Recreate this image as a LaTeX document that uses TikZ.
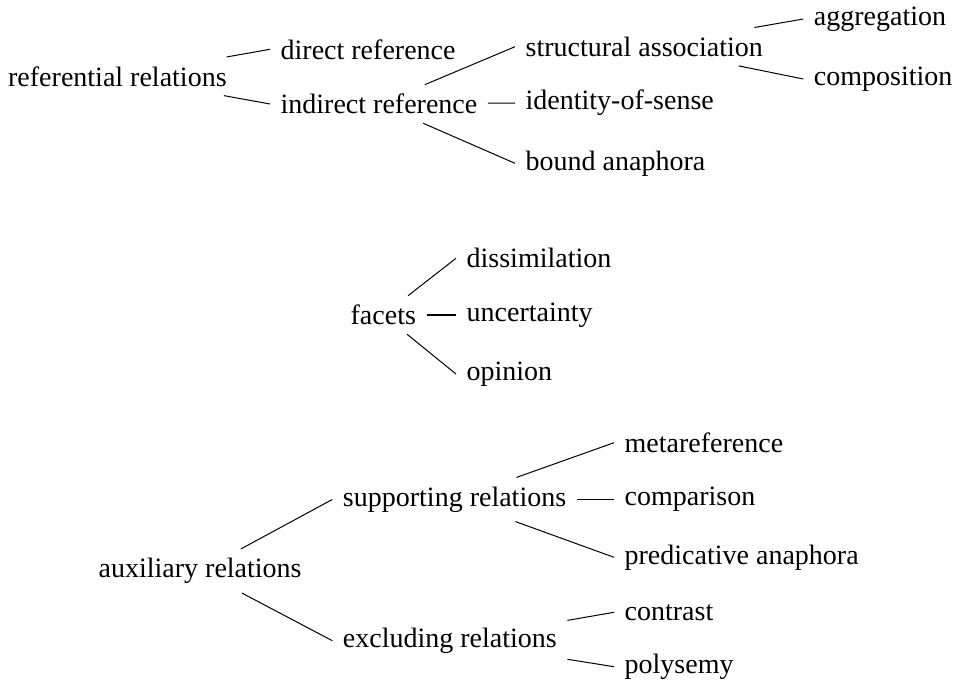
\documentclass[tikz,border=0pt]{standalone}
\usepackage{fontspec}
\setmainfont{Liberation Serif}
\usepackage{tikz}
\tikzset{
  termnd/.style={anchor=west, inner xsep=8pt, inner ysep=7pt, outer sep=0pt,
    font=\fontsize{21}{25}\selectfont},
  branchln/.style={line width=0.75pt, black},
}

\begin{document}
\begin{tikzpicture}[x=0.75pt, y=-0.75pt]
    \useasboundingbox (0,0) rectangle (954,681);
    % referential relations
    \node[termnd] (refrel) at (-2.5,76.3) {referential relations};
    \node[termnd] (dirref) at (270,49.3) {direct reference};
    \node[termnd] (indref) at (270,104) {indirect reference};
    \node[termnd] (strass) at (515,46.7) {structural association};
    \node[termnd] (idsense) at (515,103) {identity-of-sense};
    \node[termnd] (boundana) at (515,163.3) {bound anaphora};
    \node[termnd] (aggr) at (803.3,19) {aggregation};
    \node[termnd] (compo) at (803.3,79) {composition};
    \draw[branchln] (refrel) -- (dirref.west);
    \draw[branchln] (refrel) -- (indref.west);
    \draw[branchln] (indref) -- (strass.west);
    \draw[branchln] (indref) -- (idsense.west);
    \draw[branchln] (indref) -- (boundana.west);
    \draw[branchln] (strass) -- (aggr.west);
    \draw[branchln] (strass) -- (compo.west);
    % facets
    \node[termnd] (facets) at (340,315) {facets};
    \node[termnd] (dissim) at (456,258.3) {dissimilation};
    \node[termnd] (uncert) at (456,315) {uncertainty};
    \node[termnd] (opinion) at (456,374) {opinion};
    \draw[branchln] (facets) -- (dissim.west);
    \draw[branchln] (facets) -- (uncert.west);
    \draw[branchln] (facets) -- (opinion.west);
    % auxiliary relations
    \node[termnd] (auxrel) at (88,571) {auxiliary relations};
    \node[termnd] (supprel) at (332.3,499.5) {supporting relations};
    \node[termnd] (exclrel) at (332.3,640.7) {excluding relations};
    \node[termnd] (metaref) at (614,442.7) {metareference};
    \node[termnd] (compar) at (614,499.5) {comparison};
    \node[termnd] (predana) at (614,557.3) {predicative anaphora};
    \node[termnd] (contr) at (614,612.3) {contrast};
    \node[termnd] (polys) at (614,666.7) {polysemy};
    \draw[branchln] (auxrel) -- (supprel.west);
    \draw[branchln] (auxrel) -- (exclrel.west);
    \draw[branchln] (supprel) -- (metaref.west);
    \draw[branchln] (supprel) -- (compar.west);
    \draw[branchln] (supprel) -- (predana.west);
    \draw[branchln] (exclrel) -- (contr.west);
    \draw[branchln] (exclrel) -- (polys.west);
\end{tikzpicture}
\end{document}
